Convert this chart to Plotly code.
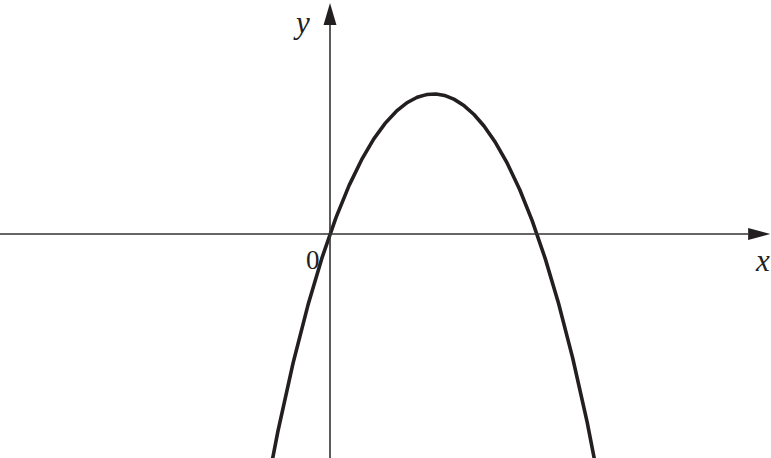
import numpy as np
import plotly.graph_objects as go

# curve: y = peak - c2*(x - xv)^2 - c4*(x - xv)^4
x_vertex = 2.0
peak = 4.0
coef_sq = 0.948
coef_quart = 0.0131
x_min, x_max = -1.3, 5.3

# view window (data units)
x_range = [-6.377, 8.522]
y_range = [-6.4, 6.686]

x_axis_end = 8.08
y_axis_end = 5.97
arrow_len_x = 0.43
arrow_len_y = 0.63
arrow_half_x = 0.17   # half height of x-arrow head (y units)
arrow_half_y = 0.125  # half width of y-arrow head (x units)

labels = [
    dict(text="y", x=-0.55, y=6.05, italic=True, size=31),
    dict(text="x", x=8.35, y=-0.77, italic=True, size=31),
    dict(text="0", x=-0.33, y=-0.75, italic=False, size=27),
]

xs = np.linspace(x_min, x_max, 600)
u = xs - x_vertex
ys = peak - coef_sq * u**2 - coef_quart * u**4

ink = "#231f20"
axis_ink = "#333333"

fig = go.Figure()
fig.add_trace(go.Scatter(x=xs, y=ys, mode="lines",
                         line=dict(color=ink, width=3.6), hoverinfo="skip"))

shapes = [
    dict(type="line", x0=x_range[0], y0=0, x1=x_axis_end, y1=0,
         line=dict(color=axis_ink, width=1.6)),
    dict(type="line", x0=0, y0=y_range[0], x1=0, y1=y_axis_end,
         line=dict(color=axis_ink, width=1.6)),
    dict(type="path",
         path=f"M {x_axis_end} {-arrow_half_x} L {x_axis_end + arrow_len_x} 0 "
              f"L {x_axis_end} {arrow_half_x} Z",
         fillcolor=ink, line=dict(width=0)),
    dict(type="path",
         path=f"M {-arrow_half_y} {y_axis_end} L 0 {y_axis_end + arrow_len_y} "
              f"L {arrow_half_y} {y_axis_end} Z",
         fillcolor=ink, line=dict(width=0)),
]

annotations = []
for lab in labels:
    txt = f"<i>{lab['text']}</i>" if lab["italic"] else lab["text"]
    annotations.append(dict(text=txt, x=lab["x"], y=lab["y"], showarrow=False,
                            font=dict(family="Liberation Serif", size=lab["size"], color=ink),
                            xanchor="center", yanchor="middle"))

fig.update_layout(
    width=771, height=458,
    margin=dict(l=0, r=0, t=0, b=0),
    paper_bgcolor="white", plot_bgcolor="white",
    showlegend=False,
    shapes=shapes,
    annotations=annotations,
    xaxis=dict(range=x_range, visible=False, fixedrange=True),
    yaxis=dict(range=y_range, visible=False, fixedrange=True),
)

# drop the browser's default page margin so the figure fills the window
fig.write_html("out.html", config={"displayModeBar": False},
               post_script="document.body.style.margin = '0px';")
